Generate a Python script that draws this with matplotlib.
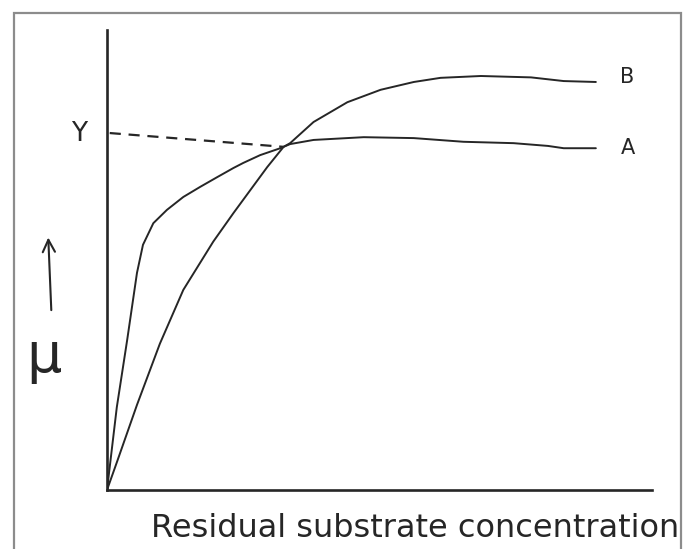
import matplotlib
matplotlib.use('Agg')
import matplotlib.pyplot as plt
from matplotlib.patches import Rectangle

# hand-drawn Monod type sketch (arbitrary units)
conc_a = [0, 0.18, 0.37, 0.55, 0.66, 0.85, 1.10, 1.40, 1.71, 2.02, 2.32,
          2.50, 2.81, 3.18, 3.36, 3.79, 4.71, 5.63, 6.54, 7.46, 8.09, 8.38, 8.97]
mu_a = [0, 1.80, 3.26, 4.72, 5.33, 5.80, 6.09, 6.37, 6.59, 6.80, 7.00,
        7.11, 7.28, 7.43, 7.52, 7.61, 7.67, 7.65, 7.57, 7.54, 7.48, 7.43, 7.43]

conc_b = [0, 0.18, 0.55, 0.97, 1.40, 1.95, 2.32, 2.63, 2.94, 3.24, 3.36, 3.79,
          4.41, 5.02, 5.63, 6.12, 6.86, 7.78, 8.38, 8.97]
mu_b = [0, 0.60, 1.85, 3.18, 4.35, 5.40, 6.02, 6.52, 7.02, 7.46, 7.54, 8.00,
        8.43, 8.70, 8.87, 8.96, 9.00, 8.97, 8.89, 8.87]

# dashed line from the y axis to where the curves cross
dash_x = [0.05, 3.24]
dash_y = [7.76, 7.46]

curve_labels = ['A', 'B']
y_mark = 'Y'
x_title = 'Residual substrate concentration'
y_title = 'μ'

ink = '#262626'

fig = plt.figure(figsize=(6.83, 5.49), dpi=100)
ax = fig.add_axes([107 / 683, 59 / 549, 545 / 683, 460 / 549])

ax.plot(conc_a, mu_a, color=ink, lw=1.4, solid_capstyle='round',
        solid_joinstyle='round')
ax.plot(conc_b, mu_b, color=ink, lw=1.4, solid_capstyle='round',
        solid_joinstyle='round')
ax.plot(dash_x, dash_y, color=ink, lw=1.6, ls=(0, (5, 3.5)))

# curve names at the right-hand ends
ax.text(conc_a[-1] + 0.58, mu_a[-1], curve_labels[0], fontsize=15,
        ha='center', va='center', color=ink)
ax.text(conc_b[-1] + 0.58, mu_b[-1] + 0.1, curve_labels[1], fontsize=15,
        ha='center', va='center', color=ink)
ax.text(-0.52, dash_y[0] - 0.03, y_mark, fontsize=19, ha='center',
        va='center', color=ink)

# mu with an upward arrow
ax.text(-1.15, 2.9, y_title, fontsize=40, ha='center', va='center', color=ink)
ax.annotate('', xy=(-1.08, 5.55), xytext=(-1.02, 3.85),
            arrowprops=dict(arrowstyle='->', color=ink, lw=1.5,
                            mutation_scale=22),
            annotation_clip=False)

ax.text(5.66, -1.02, x_title, fontsize=23, ha='center', va='baseline',
        color=ink)

ax.set_xlim(0, 10)
ax.set_ylim(0, 10)
ax.set_xticks([])
ax.set_yticks([])
for side in ['top', 'right']:
    ax.spines[side].set_visible(False)
for side in ['left', 'bottom']:
    ax.spines[side].set_color(ink)
    ax.spines[side].set_linewidth(1.9)

# grey picture frame
fig.patches.append(Rectangle((14 / 683, -0.05), 667 / 683, 1.05 - 13 / 549,
                             transform=fig.transFigure, fill=False,
                             edgecolor='#8c8c8c', lw=1.6))

fig.savefig('out.png', dpi=100)
